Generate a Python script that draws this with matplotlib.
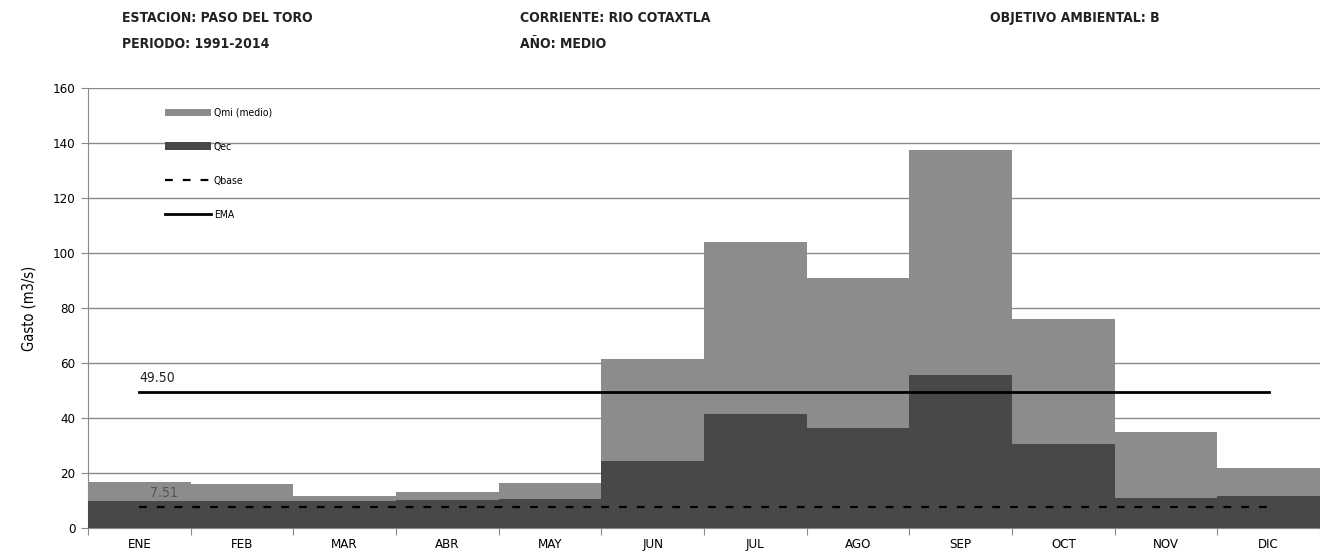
import matplotlib
matplotlib.use("Agg")
import matplotlib.pyplot as plt
import numpy as np

# datos (m3/s)
meses = ['ENE', 'FEB', 'MAR', 'ABR', 'MAY', 'JUN', 'JUL', 'AGO', 'SEP', 'OCT', 'NOV', 'DIC']
qmi = [16.8, 15.9, 11.6, 13.1, 16.5, 61.5, 104.0, 91.0, 137.5, 76.0, 35.0, 22.0]
qec = [9.8, 9.8, 9.9, 10.1, 10.4, 24.5, 41.5, 36.5, 55.5, 30.5, 11.0, 11.5]
qbase = [7.51, 7.51, 7.51, 7.51, 7.51, 7.51, 7.51, 7.51, 7.51, 7.51, 7.51, 7.51]
ema = [49.50, 49.50, 49.50, 49.50, 49.50, 49.50, 49.50, 49.50, 49.50, 49.50, 49.50, 49.50]

plt.rcParams['font.family'] = ['DejaVu Sans']
plt.rcParams['font.stretch'] = 'condensed'

fig = plt.figure(figsize=(13.2, 5.56), dpi=100)
ax = fig.add_axes([88/1320, 1 - 528/556, 1 - 88/1320, 440/556])

x = np.arange(len(meses))
b1 = ax.bar(x, qmi, width=1.0, align='edge', color='#8c8c8c', label='Qmi (medio)', zorder=2)
b2 = ax.bar(x, qec, width=1.0, align='edge', color='#484848', label='Qec', zorder=3)
l1, = ax.plot(x + 0.5, qbase, color='black', lw=1.6, linestyle=(0, (3.5, 4.5)), label='Qbase', zorder=4)
l2, = ax.plot(x + 0.5, ema, color='black', lw=2.0, label='EMA', zorder=4)

ax.text(0.5, ema[0] + 2.5, '%.2f' % ema[0], fontsize=10, color='#222222', va='bottom', ha='left')
ax.text(0.6, qbase[0] + 2.8, '%.2f' % qbase[0], fontsize=10, color='#555555', va='bottom', ha='left', zorder=5)

ax.set_xlim(0, 12)
ax.set_ylim(0, 160)
ax.set_yticks(np.arange(0, 161, 20))
ax.yaxis.grid(True, color='#8a8a8a', lw=1.0)
ax.set_axisbelow(True)

ax.set_xticks(np.arange(0, 13))
ax.set_xticklabels([])
ax.set_xticks(x + 0.5, minor=True)
ax.set_xticklabels(meses, minor=True, fontsize=9.5)
ax.tick_params(axis='x', which='major', length=5, color='#8a8a8a', direction='out')
ax.tick_params(axis='x', which='minor', length=0, pad=7)
ax.tick_params(axis='y', length=5, color='#8a8a8a', labelsize=9.5, pad=4)

for s in ['top', 'right']:
    ax.spines[s].set_visible(False)
for s in ['left', 'bottom']:
    ax.spines[s].set_color('#8a8a8a')

ax.set_ylabel('Gasto (m3/s)', fontsize=10.5, labelpad=12)

ax.legend([b1, b2, l1, l2], ['Qmi (medio)', 'Qec', 'Qbase', 'EMA'],
          loc='upper left', bbox_to_anchor=(0.0625, 0.955), frameon=False, fontsize=7.5,
          labelspacing=2.3, handlelength=4.4, handletextpad=0.3, borderpad=0, borderaxespad=0)

hdr = dict(fontsize=10, fontweight='bold', color='#222222', va='center', ha='left')
fig.text(122/1320, 1 - 18/556, 'ESTACION: PASO DEL TORO', **hdr)
fig.text(122/1320, 1 - 44/556, 'PERIODO: 1991-2014', **hdr)
fig.text(520/1320, 1 - 18/556, 'CORRIENTE: RIO COTAXTLA', **hdr)
fig.text(520/1320, 1 - 44/556, 'AÑO: MEDIO', **hdr)
fig.text(990/1320, 1 - 18/556, 'OBJETIVO AMBIENTAL: B', **hdr)

fig.savefig('out.png', dpi=100)
